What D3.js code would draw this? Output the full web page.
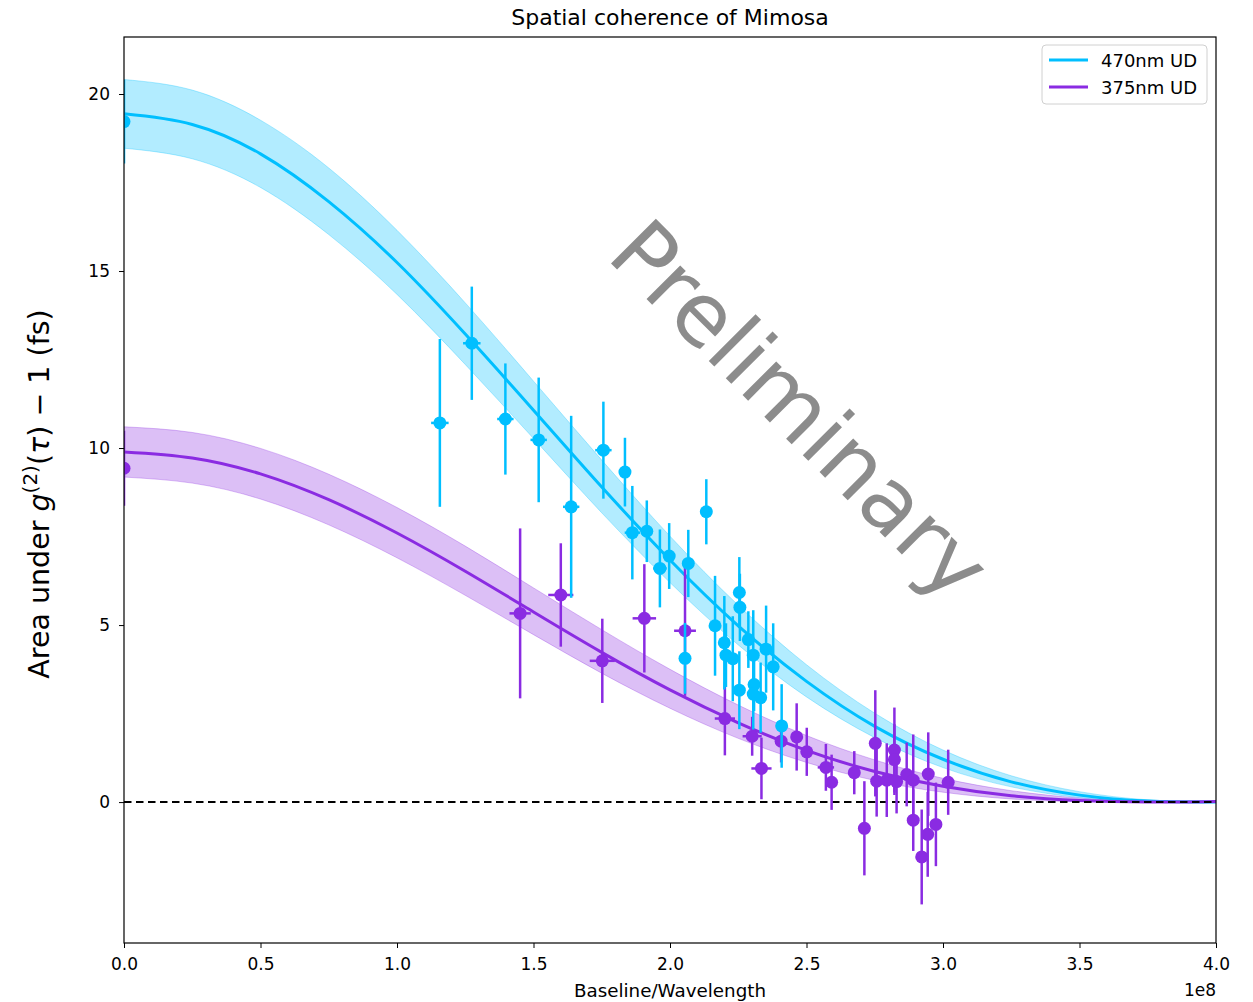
<!DOCTYPE html>
<html>
<head>
<meta charset="utf-8">
<script src="https://cdn.jsdelivr.net/npm/d3@7"></script>
<style>
body { margin: 0; background: #fff; }
text { font-family: "DejaVu Sans", sans-serif; }
</style>
</head>
<body>
<svg id="chart"></svg>
<script>
// fit curves (uniform disk), baseline in units of 1e8
let fitBase = [0, 0.25, 0.5, 0.75, 1.0, 1.25, 1.5, 1.75, 2.0, 2.25, 2.5, 2.75, 3.0, 3.25, 3.5, 3.75, 4.0]
let fit470 = [19.44, 19.14, 18.31, 16.96, 15.24, 13.22, 11.07, 8.90, 6.84, 4.98, 3.41, 2.14, 1.21, 0.572, 0.197, 0.030, 0.005]
let fit470Hi = [20.41, 20.11, 19.26, 17.91, 16.15, 14.10, 11.89, 9.66, 7.51, 5.56, 3.88, 2.51, 1.47, 0.743, 0.294, 0.064, 0.002]
let fit470Lo = [18.47, 18.17, 17.36, 16.03, 14.34, 12.36, 10.27, 8.17, 6.20, 4.44, 2.97, 1.82, 0.974, 0.430, 0.125, 0.010, 0.018]
let fit375 = [9.89, 9.72, 9.27, 8.54, 7.60, 6.52, 5.37, 4.23, 3.17, 2.24, 1.46, 0.865, 0.446, 0.178, 0.044, 0.0005, 0.019]
let fit375Hi = [10.60, 10.44, 9.99, 9.26, 8.32, 7.23, 6.05, 4.87, 3.75, 2.74, 1.88, 1.19, 0.671, 0.322, 0.112, 0.019, 0.002]
let fit375Lo = [9.18, 9.01, 8.56, 7.83, 6.90, 5.84, 4.73, 3.64, 2.65, 1.80, 1.12, 0.611, 0.279, 0.088, 0.009, 0.007, 0.027]

// measurements 470nm
let base470 = [0.0, 1.157, 1.274, 1.397, 1.519, 1.638, 1.756, 1.835, 1.862, 1.915, 1.963, 1.997, 2.067, 2.133, 2.055,
    2.165, 2.199, 2.205, 2.230, 2.254, 2.256, 2.287, 2.305, 2.352, 2.378, 2.254, 2.308, 2.305, 2.332, 2.409]
let area470 = [19.22, 10.71, 12.96, 10.82, 10.23, 8.34, 9.94, 9.32, 7.61, 7.65, 6.60, 6.95, 6.74, 8.20, 4.06,
    4.98, 4.50, 4.15, 4.05, 5.92, 5.50, 4.59, 4.15, 4.32, 3.82, 3.16, 3.32, 3.05, 2.95, 2.15]
let err470 = [1.18, 2.37, 1.60, 1.57, 1.76, 2.57, 1.37, 0.97, 1.32, 0.87, 1.10, 0.93, 0.95, 0.92, 1.0,
    1.41, 1.32, 0.9, 1.2, 1.0, 0.95, 0.8, 1.27, 1.23, 1.23, 1.1, 0.75, 1.0, 0.99, 1.18]
let xerr470 = [0, 0.032, 0.032, 0.03, 0.03, 0.03, 0.03, 0.02, 0.028, 0.02, 0.025, 0.02, 0.02, 0.02, 0.02,
    0.02, 0.02, 0.02, 0.02, 0.02, 0.02, 0.02, 0.02, 0.02, 0.02, 0.02, 0.02, 0.02, 0.02, 0.02]

// measurements 375nm
let base375 = [0.0, 1.451, 1.600, 1.752, 1.906, 2.055, 2.201, 2.301, 2.335, 2.407, 2.464, 2.501, 2.571, 2.592, 2.675,
    2.712, 2.752, 2.757, 2.794, 2.822, 2.822, 2.830, 2.867, 2.891, 2.891, 2.922, 2.944, 2.946, 2.974, 3.019]
let area375 = [9.43, 5.33, 5.85, 3.99, 5.19, 4.84, 2.36, 1.86, 0.95, 1.72, 1.84, 1.42, 0.98, 0.56, 0.83,
    -0.74, 1.66, 0.59, 0.62, 1.47, 1.20, 0.58, 0.78, 0.62, -0.51, -1.55, -0.91, 0.79, -0.63, 0.56]
let err375 = [1.06, 2.40, 1.46, 1.19, 1.53, 1.84, 1.04, 0.55, 0.87, 0.6, 0.95, 0.68, 0.66, 0.78, 0.61,
    1.33, 1.50, 1.0, 1.04, 1.2, 1.0, 0.9, 0.9, 1.29, 0.87, 1.34, 1.2, 1.18, 1.18, 0.92]
let xerr375 = [0, 0.039, 0.046, 0.046, 0.043, 0.040, 0.037, 0.035, 0.037, 0.02, 0.02, 0.02, 0.03, 0.02, 0.015,
    0.015, 0.015, 0.015, 0.015, 0.015, 0.015, 0.015, 0.015, 0.015, 0.015, 0.015, 0.015, 0.015, 0.015, 0.015]

let xTicks = [0, 0.5, 1.0, 1.5, 2.0, 2.5, 3.0, 3.5, 4.0]
let yTicks = [0, 5, 10, 15, 20]
let seriesNames = ['470nm UD', '375nm UD']
let seriesColors = ['#00bfff', '#8a2be2']

let W = 1253, H = 1002
let plot = { left: 124, top: 37, right: 1216, bottom: 943 }

let svg = d3.select('#chart').attr('width', W).attr('height', H)

let x = d3.scaleLinear().domain([0, 4]).range([plot.left, plot.right])
let y = d3.scaleLinear().domain([-3.98, 21.61]).range([plot.bottom, plot.top])

svg.append('defs').append('clipPath').attr('id', 'clip')
    .append('rect')
    .attr('x', plot.left).attr('y', plot.top)
    .attr('width', plot.right - plot.left).attr('height', plot.bottom - plot.top)

let g = svg.append('g').attr('clip-path', 'url(#clip)')

function fitRows(mid, lo, hi) {
    return fitBase.map((b, i) => ({ b: b, v: mid[i], lo: lo[i], hi: hi[i] }))
}

let fits = [fitRows(fit470, fit470Lo, fit470Hi), fitRows(fit375, fit375Lo, fit375Hi)]

let band = d3.area()
    .x(d => x(d.b)).y0(d => y(d.lo)).y1(d => y(d.hi))
    .curve(d3.curveNatural)
let line = d3.line()
    .x(d => x(d.b)).y(d => y(d.v))
    .curve(d3.curveNatural)

fits.forEach((rows, i) => {
    g.append('path').datum(rows)
        .attr('d', band)
        .attr('fill', seriesColors[i]).attr('fill-opacity', 0.3)
        .attr('stroke', seriesColors[i]).attr('stroke-opacity', 0.3).attr('stroke-width', 1)
})
fits.forEach((rows, i) => {
    g.append('path').datum(rows)
        .attr('d', line)
        .attr('fill', 'none')
        .attr('stroke', seriesColors[i]).attr('stroke-width', 3)
})

// zero line
g.append('line')
    .attr('x1', x(0)).attr('x2', x(4))
    .attr('y1', y(0)).attr('y2', y(0))
    .attr('stroke', 'black').attr('stroke-width', 2)
    .attr('stroke-dasharray', '7.5,4.5')

function drawPoints(bases, vals, errs, xerrs, color) {
    let pts = bases.map((b, i) => ({ b: b, v: vals[i], e: errs[i], xe: xerrs[i] }))
    let grp = g.append('g')
    grp.selectAll('line.ey').data(pts).enter().append('line')
        .attr('x1', d => x(d.b)).attr('x2', d => x(d.b))
        .attr('y1', d => y(d.v - d.e)).attr('y2', d => y(d.v + d.e))
        .attr('stroke', color).attr('stroke-width', 2.5)
    grp.selectAll('line.ex').data(pts.filter(d => d.xe > 0)).enter().append('line')
        .attr('x1', d => x(d.b - d.xe)).attr('x2', d => x(d.b + d.xe))
        .attr('y1', d => y(d.v)).attr('y2', d => y(d.v))
        .attr('stroke', color).attr('stroke-width', 2.5)
    grp.selectAll('circle').data(pts).enter().append('circle')
        .attr('cx', d => x(d.b)).attr('cy', d => y(d.v))
        .attr('r', 6.5)
        .attr('fill', color)
}

drawPoints(base375, area375, err375, xerr375, seriesColors[1])
drawPoints(base470, area470, err470, xerr470, seriesColors[0])

// watermark
svg.append('text')
    .attr('transform', 'translate(800,410) rotate(45)')
    .attr('text-anchor', 'middle')
    .attr('dominant-baseline', 'central')
    .attr('font-size', 87)
    .attr('fill', '#808080')
    .attr('fill-opacity', 0.9)
    .text('Preliminary')

// frame
svg.append('rect')
    .attr('x', plot.left).attr('y', plot.top)
    .attr('width', plot.right - plot.left).attr('height', plot.bottom - plot.top)
    .attr('fill', 'none').attr('stroke', 'black').attr('stroke-width', 1.2)

let xAxis = svg.append('g')
    .attr('transform', 'translate(0,' + plot.bottom + ')')
    .call(d3.axisBottom(x).tickValues(xTicks).tickFormat(d3.format('.1f')).tickSize(5).tickPadding(10))
let yAxis = svg.append('g')
    .attr('transform', 'translate(' + plot.left + ',0)')
    .call(d3.axisLeft(y).tickValues(yTicks).tickFormat(d3.format('d')).tickSize(5).tickPadding(9))

;[xAxis, yAxis].forEach(ax => {
    ax.select('.domain').remove()
    ax.selectAll('.tick line').attr('stroke', 'black').attr('stroke-width', 1)
    ax.selectAll('.tick text')
        .attr('font-family', '"DejaVu Sans", sans-serif')
        .attr('font-size', 17).attr('fill', 'black')
})

// offset text
svg.append('text')
    .attr('x', plot.right).attr('y', 996)
    .attr('text-anchor', 'end').attr('font-size', 17)
    .text('1e8')

// title and labels
svg.append('text')
    .attr('x', (plot.left + plot.right) / 2).attr('y', 25)
    .attr('text-anchor', 'middle').attr('font-size', 22)
    .text('Spatial coherence of Mimosa')

svg.append('text')
    .attr('x', (plot.left + plot.right) / 2).attr('y', 997)
    .attr('text-anchor', 'middle').attr('font-size', 18.3)
    .text('Baseline/Wavelength')

let ylab = svg.append('text')
    .attr('transform', 'translate(49,494) rotate(-90)')
    .attr('text-anchor', 'middle').attr('font-size', 28.5)
ylab.append('tspan').text('Area under ')
ylab.append('tspan').attr('font-style', 'italic').text('g')
ylab.append('tspan').attr('font-size', 20).attr('dy', -12).text('(2)')
ylab.append('tspan').attr('dy', 12).text('(')
ylab.append('tspan').attr('font-style', 'italic').text('τ')
ylab.append('tspan').text(') \u2212 1 (fs)')

// legend
let leg = svg.append('g')
leg.append('rect')
    .attr('x', 1042).attr('y', 45).attr('width', 165).attr('height', 59)
    .attr('rx', 4).attr('fill', 'white').attr('fill-opacity', 0.8)
    .attr('stroke', '#d0d0d0')
seriesNames.forEach((name, i) => {
    let ly = 60 + i * 27
    leg.append('line')
        .attr('x1', 1049).attr('x2', 1088).attr('y1', ly).attr('y2', ly)
        .attr('stroke', seriesColors[i]).attr('stroke-width', 3)
    leg.append('text')
        .attr('x', 1101).attr('y', ly + 6.5)
        .attr('font-size', 18)
        .text(name)
})
</script>
</body>
</html>
